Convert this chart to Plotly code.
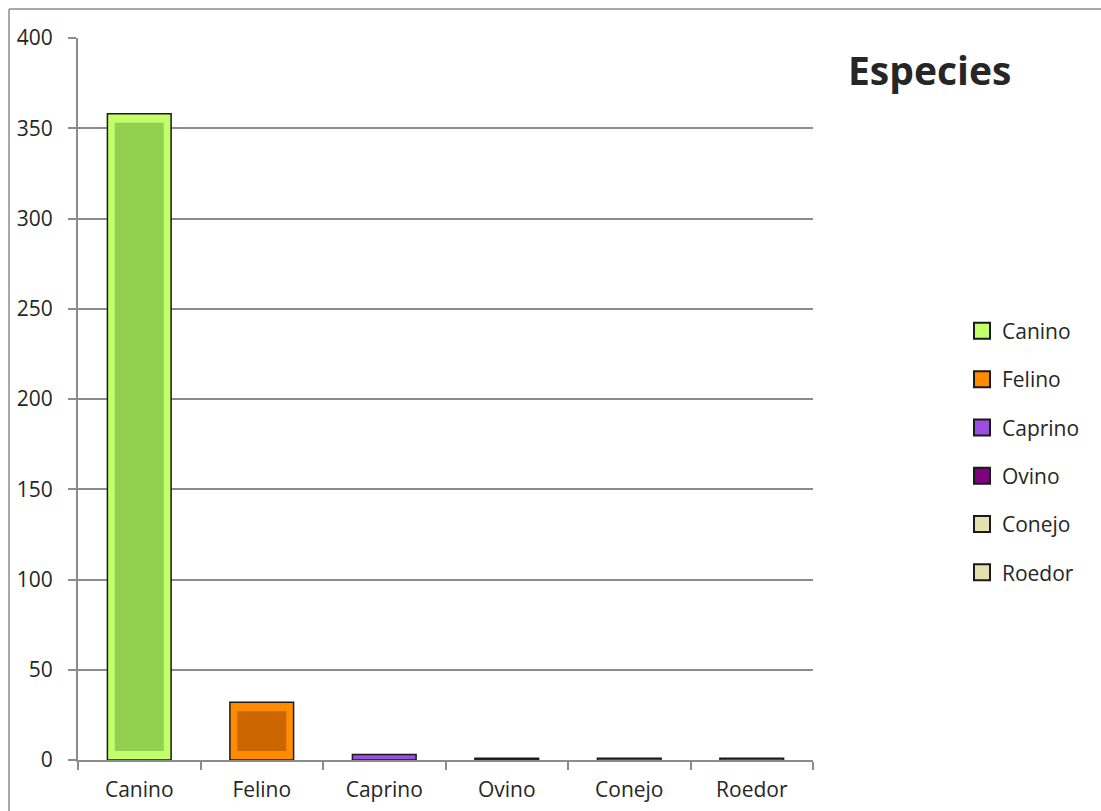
import plotly.graph_objects as go

categories = ["Canino", "Felino", "Caprino", "Ovino", "Conejo", "Roedor"]
values = [358, 32, 3, 1, 1, 1]
outer_colors = ["#c2ff6a", "#ff8c00", "#9b4fe0", "#800080", "#e4e0b0", "#e4e0b0"]
inner_colors = ["#92d050", "#cc6600", "#8a3fd0", "#700070", "#d8d4a0", "#d8d4a0"]
y_ticks = [0, 50, 100, 150, 200, 250, 300, 350, 400]

BEVEL = 5  # bevel inset in data units (style)
FONT = "Open Sans"
TXT = "#262626"

fig = go.Figure()
for i, (cat, val) in enumerate(zip(categories, values)):
    fig.add_trace(go.Bar(
        x=[cat], y=[val], name=cat, width=0.52,
        marker=dict(color=outer_colors[i], line=dict(color="#1a1a1a", width=1.5)),
        showlegend=False,
    ))
    if val > 2 * BEVEL + 2:
        fig.add_trace(go.Bar(
            x=[cat], y=[val - 2 * BEVEL], base=[BEVEL], width=0.40,
            marker=dict(color=inner_colors[i], line=dict(width=0)),
            showlegend=False, hoverinfo="skip",
        ))

# legend-only entries with larger square swatches
for i, cat in enumerate(categories):
    fig.add_trace(go.Scatter(
        x=[None], y=[None], mode="markers", name=cat, legendgroup=cat,
        marker=dict(symbol="square", size=16, color=outer_colors[i],
                    line=dict(color="#1a1a1a", width=2)),
        showlegend=True,
    ))

fig.update_layout(
    width=1101, height=811,
    margin=dict(l=78, r=288, t=38, b=51),
    barmode="overlay",
    paper_bgcolor="white", plot_bgcolor="white",
    font=dict(family=FONT, size=22, color=TXT),
    legend=dict(
        x=1.2027, y=0.427, xanchor="left", yanchor="middle",
        font=dict(family=FONT, size=21, color=TXT),
        tracegroupgap=18, itemwidth=30, traceorder="grouped",
        bgcolor="rgba(0,0,0,0)",
    ),
    xaxis=dict(
        categoryorder="array", categoryarray=categories,
        showline=True, linecolor="#8c8c8c", linewidth=2,
        ticks="outside", tickson="boundaries", ticklen=8, tickwidth=2, tickcolor="#8c8c8c",
        showgrid=False, ticklabelstandoff=10, automargin=False,
        tickfont=dict(family=FONT, size=21, color=TXT),
    ),
    yaxis=dict(
        range=[0, 400], tickvals=y_ticks,
        showline=True, linecolor="#8c8c8c", linewidth=2,
        ticks="outside", ticklen=8, tickwidth=2, tickcolor="#8c8c8c",
        showgrid=True, gridcolor="#8c8c8c", gridwidth=2,
        zeroline=False, ticklabelstandoff=11, automargin=False,
        tickfont=dict(family=FONT, size=21, color=TXT),
    ),
    annotations=[dict(
        text="<b>Especies</b>", xref="paper", yref="paper",
        x=1.159, y=0.956, xanchor="center", yanchor="middle", showarrow=False,
        font=dict(family=FONT, size=39, color=TXT),
    )],
    shapes=[
        dict(type="line", xref="paper", yref="paper",
             x0=-69 / 735, x1=-69 / 735, y0=1 + 29 / 722, y1=-60 / 722,
             line=dict(color="#8c8c8c", width=1.5)),
        dict(type="line", xref="paper", yref="paper",
             x0=-69 / 735, x1=1.5, y0=1 + 29 / 722, y1=1 + 29 / 722,
             line=dict(color="#8c8c8c", width=1.5)),
    ],
)

fig.write_html("out.html")
